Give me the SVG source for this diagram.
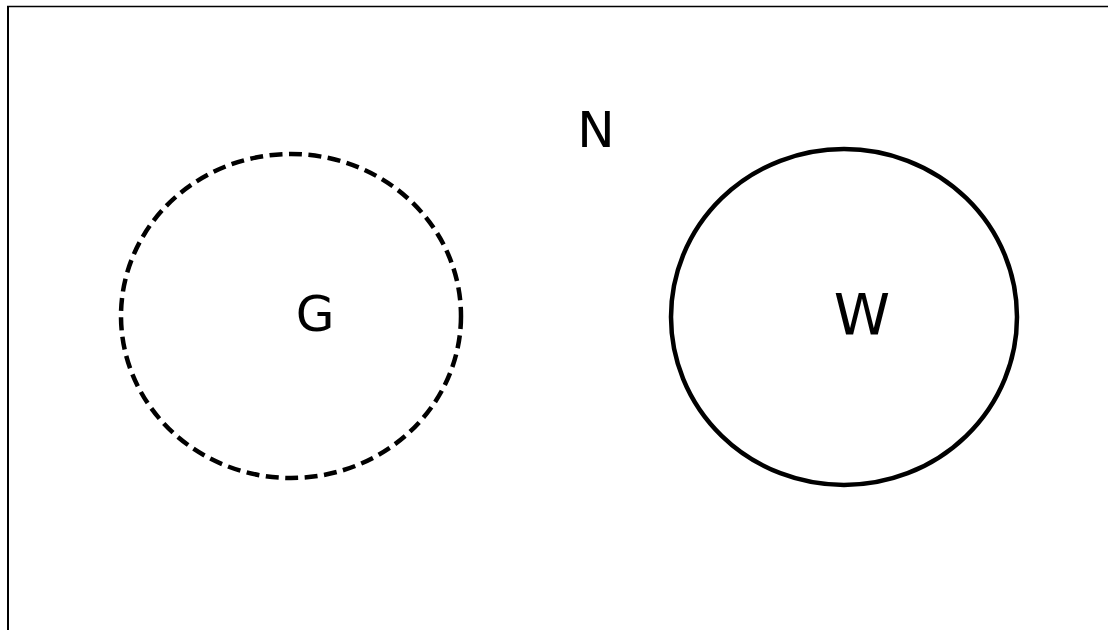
<svg xmlns="http://www.w3.org/2000/svg" width="1108" height="630" viewBox="0 0 1108 630">
<style>
.lbl{font-family:"DejaVu Sans",sans-serif;font-size:50px;fill:#000;text-anchor:middle}
.c{fill:none;stroke:#000;stroke-width:4.5}
</style>
<rect width="1108" height="630" fill="#fff"/>
<path d="M8,630 V6.5" fill="none" stroke="#000" stroke-width="2"/>
<path d="M7,6.5 H1108" fill="none" stroke="#000" stroke-width="1.4"/>
<g id="node-G">
<ellipse class="c" cx="291" cy="316" rx="170" ry="162" stroke-dasharray="13,6.5"/>
<text class="lbl" x="315" y="331">G</text>
</g>
<g id="node-W">
<ellipse class="c" cx="844" cy="317" rx="173" ry="168"/>
<text class="lbl" x="862" y="335" style="font-size:57px">W</text>
</g>
<g id="node-N">
<text class="lbl" x="596" y="147">N</text>
</g>
<g id="connectors"/>
</svg>
